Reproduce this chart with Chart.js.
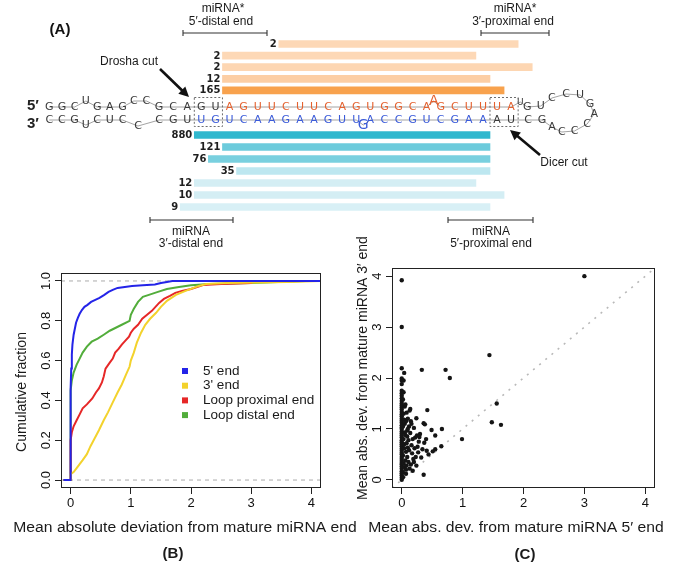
<!DOCTYPE html>
<html>
<head>
<meta charset="utf-8">
<title>miRNA end heterogeneity</title>
<script src="https://cdn.jsdelivr.net/npm/chart.js@4.4.1/dist/chart.umd.min.js"></script>
<style>
  html, body { margin:0; padding:0; background:#ffffff; }
  #fig { position:relative; width:685px; height:570px; background:#ffffff; overflow:hidden; }
  #fig canvas { position:absolute; left:0; top:0; }
</style>
</head>
<body>
<div id="fig">
  <canvas id="panelA1" width="685" height="570"></canvas>
  <canvas id="panelA2" width="685" height="570"></canvas>
  <canvas id="panelB" width="685" height="570"></canvas>
  <canvas id="panelC" width="685" height="570"></canvas>
</div>
<script>
// ================= DATA =================
// Panel A: read counts and read extents (nucleotide positions; 0 = first nt of the miRNA* arm)
const starCounts   = [2, 2, 2, 12, 165];
const starStart    = [3.5, -0.5, -0.5, -0.5, -0.5];
const starEnd      = [20.5, 17.5, 21.5, 18.5, 19.5];
const matureCounts = [880, 121, 76, 35, 12, 10, 9];
const matureStart  = [-2.5, -0.5, -1.5, 0.5, -2.5, -2.5, -3.5];
const matureEnd    = [18.5, 18.5, 18.5, 18.5, 17.5, 19.5, 18.5];

// Panel B: cumulative fraction vs mean absolute deviation
const seriesNames = ["5' end", "3' end", "Loop proximal end", "Loop distal end"];
const dev5X = [-0.12, 0, 0, 0.01, 0.02, 0.03, 0.05, 0.07, 0.09, 0.12, 0.15, 0.19, 0.23, 0.28, 0.34, 0.41, 0.48, 0.56, 0.63, 0.7, 0.78, 0.9, 1.02, 1.2, 1.4, 1.5, 1.6, 1.69, 4.16];
const dev5Y = [0, 0, 0.46, 0.56, 0.63, 0.68, 0.73, 0.76, 0.79, 0.815, 0.835, 0.855, 0.87, 0.88, 0.895, 0.905, 0.915, 0.93, 0.945, 0.955, 0.965, 0.97, 0.975, 0.978, 0.982, 0.99, 0.995, 1.0, 1.0];
const dev3X = [-0.12, 0, 0, 0.05, 0.1, 0.15, 0.2, 0.27, 0.33, 0.4, 0.47, 0.55, 0.62, 0.7, 0.78, 0.85, 0.92, 0.98, 1.0, 1.05, 1.1, 1.17, 1.24, 1.32, 1.42, 1.5, 1.6, 1.75, 1.91, 2.0, 2.13, 2.25, 2.6, 3.6, 4.16];
const dev3Y = [0, 0, 0.03, 0.04, 0.06, 0.08, 0.1, 0.13, 0.17, 0.21, 0.25, 0.3, 0.34, 0.39, 0.44, 0.48, 0.53, 0.57, 0.6, 0.64, 0.69, 0.74, 0.78, 0.81, 0.84, 0.87, 0.9, 0.93, 0.95, 0.96, 0.975, 0.985, 0.99, 0.995, 1.0];
const devLpX = [-0.12, 0, 0, 0.02, 0.05, 0.1, 0.15, 0.2, 0.27, 0.36, 0.42, 0.47, 0.52, 0.55, 0.58, 0.65, 0.7, 0.74, 0.8, 0.85, 0.91, 0.97, 1.0, 1.05, 1.12, 1.19, 1.27, 1.35, 1.47, 1.55, 1.65, 1.74, 1.85, 2.0, 2.1, 2.2, 2.5, 3.0, 3.05, 4.16];
const devLpY = [0, 0, 0.2, 0.24, 0.27, 0.3, 0.33, 0.36, 0.38, 0.41, 0.44, 0.46, 0.49, 0.52, 0.56, 0.59, 0.61, 0.64, 0.66, 0.68, 0.7, 0.72, 0.74, 0.76, 0.78, 0.81, 0.83, 0.85, 0.89, 0.91, 0.925, 0.94, 0.95, 0.96, 0.97, 0.98, 0.985, 0.99, 1.0, 1.0];
const devLdX = [-0.12, 0, 0, 0.02, 0.05, 0.1, 0.15, 0.2, 0.27, 0.35, 0.45, 0.55, 0.65, 0.75, 0.85, 0.98, 1.0, 1.05, 1.12, 1.2, 1.3, 1.45, 1.6, 1.8, 2.0, 2.3, 3.0, 3.9, 4.16];
const devLdY = [0, 0, 0.45, 0.5, 0.54, 0.58, 0.61, 0.64, 0.67, 0.695, 0.71, 0.73, 0.75, 0.765, 0.78, 0.8, 0.83, 0.86, 0.895, 0.92, 0.93, 0.945, 0.96, 0.97, 0.978, 0.985, 0.99, 1.0, 1.0];
const devTicks  = [0, 1, 2, 3, 4];
const fracTicks = [0, 0.2, 0.4, 0.6, 0.8, 1.0];
const fracRefLevels = [0, 1];

// Panel C: mean abs. dev. of 5' end (x) vs 3' end (y), one point per miRNA
const scX = [
  0,0,0,0,0,0,0,0,0,0, 0,0,0,0,0,0,0,0,0,0, 0,0,0,0,0,0,0,0,0,0, 0,0,0,0,0,0,0,0,0,0, 0,0,0,0,0,0,0,0,
  0.02,0.03,0.02,0.04,0.03,0.05,0.02,0.04,0.03,0.05,0.02,0.03,0.04,0.05,0.04,0.05,0.03,0.02,
  0.07,0.08,0.06,0.09,0.07,0.10,0.08,0.11,0.06,0.09,0.12,0.07,0.10,0.08,0.06,0.11,0.12,0.09,0.10,0.07,
  0.14,0.13,0.15,0.17,0.16,0.18,0.14,0.20,0.19,0.22,0.24,0.25,0.27,0.21,0.16,0.23,0.28,0.26,0.30,0.13,0.18,0.20,0.15,0.24,0.29,
  0.33,0.72,0.79,1.44,1.56,1.48,1.63,0.99,0.66,0.49,0.55,0.42,0.36,0.38,0.37,0.36,0.65,0.55,0.51,0.41,0.44,3.00,0.34,0.32,0.40
];
const scY = [
  0.00,0.04,0.09,0.13,0.17,0.22,0.26,0.30,0.33,0.37, 0.41,0.45,0.50,0.53,0.57,0.61,0.66,0.70,0.74,0.78,
  0.83,0.87,0.91,0.95,1.00,1.03,1.07,1.12,1.16,1.20, 1.25,1.29,1.33,1.38,1.42,1.46,1.50,1.55,1.60,1.65,
  1.70,1.75,1.88,1.95,1.99,2.19,3.00,3.92,
  0.15,0.32,0.48,0.62,0.80,0.93,1.05,1.18,1.30,1.44,1.58,1.72,2.10,0.25,0.70,1.10,1.95,0.05,
  0.12,0.28,0.38,0.45,0.55,0.63,0.72,0.78,0.88,0.97,1.05,1.15,1.20,1.32,1.48,0.35,0.58,0.85,1.00,0.20,
  1.39,1.36,0.30,0.52,0.68,0.80,0.92,1.02,0.41,0.83,1.21,0.87,0.54,0.62,1.10,0.45,0.75,0.65,0.90,0.22,0.18,0.35,1.15,0.28,0.84,
  2.16,2.16,2.00,2.45,1.50,1.13,1.08,0.80,1.00,0.98,0.87,1.37,1.11,1.09,0.73,0.10,0.66,0.60,0.56,0.57,0.50,4.00,0.60,0.44,0.80
];
const scTicks = [0, 1, 2, 3, 4];

// ================= STYLE / HELPERS =================
const FONT = "'Liberation Sans', Arial, Helvetica, sans-serif";
const VFONT = "'DejaVu Sans', Verdana, sans-serif";
Chart.defaults.font.family = FONT;
Chart.defaults.color = '#111';

function drawText(ctx, s, x, y, o) {
  o = o || {};
  ctx.save();
  ctx.font = o.font || ('12px ' + FONT);
  ctx.fillStyle = o.color || '#1a1a1a';
  ctx.textAlign = o.align || 'center';
  ctx.textBaseline = o.baseline || 'middle';
  ctx.translate(x, y);
  if (o.rot) ctx.rotate(o.rot);
  if (o.sx) ctx.scale(o.sx, 1);
  ctx.fillText(s, 0, 0);
  ctx.restore();
}
function arrow(ctx, x1, y1, x2, y2) {
  const a = Math.atan2(y2 - y1, x2 - x1), hl = 10, hw = 5;
  ctx.save();
  ctx.strokeStyle = '#111'; ctx.fillStyle = '#111'; ctx.lineWidth = 2.6;
  ctx.beginPath(); ctx.moveTo(x1, y1);
  ctx.lineTo(x2 - hl * 0.8 * Math.cos(a), y2 - hl * 0.8 * Math.sin(a)); ctx.stroke();
  ctx.beginPath(); ctx.moveTo(x2, y2);
  ctx.lineTo(x2 - hl * Math.cos(a) + hw * Math.sin(a), y2 - hl * Math.sin(a) - hw * Math.cos(a));
  ctx.lineTo(x2 - hl * Math.cos(a) - hw * Math.sin(a), y2 - hl * Math.sin(a) + hw * Math.cos(a));
  ctx.closePath(); ctx.fill();
  ctx.restore();
}
function bracket(ctx, x1, x2, y) {
  ctx.save();
  ctx.strokeStyle = '#333'; ctx.lineWidth = 1.1;
  ctx.beginPath();
  ctx.moveTo(x1, y); ctx.lineTo(x2, y);
  ctx.moveTo(x1, y - 3); ctx.lineTo(x1, y + 3);
  ctx.moveTo(x2, y - 3); ctx.lineTo(x2, y + 3);
  ctx.stroke();
  ctx.restore();
}

// read-count labels at the left end of each bar
const countPlugin = {
  id: 'counts',
  afterDatasetsDraw(chart) {
    const ctx = chart.ctx, meta = chart.getDatasetMeta(0);
    ctx.save();
    ctx.font = 'bold 10px ' + VFONT;
    ctx.fillStyle = '#1e1e1e';
    ctx.textAlign = 'right'; ctx.textBaseline = 'middle';
    meta.data.forEach((el, i) => {
      const left = Math.min(el.x, el.base);
      ctx.fillText(String(chart.data.labels[i]), left - 2, el.y + 0.5);
    });
    ctx.restore();
  }
};

// hairpin sequence, boxes, arrows and bracket annotations of panel A
const duplexPlugin = {
  id: 'duplex',
  afterDraw(chart) {
    const ctx = chart.ctx;
    const P = k => chart.scales.x.getPixelForValue(k);
    const yT = 107, yB = 120;
    const K = '#3a3a3a', OR = '#e4612f', BL = '#3b5bd9';
    const chain = [];
    const add = (c, k, y, col, size) => chain.push({ c, k, y, col, size: size || 11 });
    // 5' arm
    [['G',-12.8,0],['G',-11.9,0],['C',-11,0],['U',-10.2,-6],['G',-9.4,0],['A',-8.5,0],['G',-7.6,0],
     ['C',-6.8,-6],['C',-5.9,-6],['G',-5,0],['C',-4,0],['A',-3,0],['G',-2,0],['U',-1,0]]
      .forEach(a => add(a[0], a[1], yT + a[2], K));
    'AGUUCUUCAGUGGCA'.split('').forEach((c, i) => add(c, i, yT, OR));
    add('A', 14.5, yT - 6, OR, 14);
    'GCUUUA'.split('').forEach((c, i) => add(c, 15 + i, yT, OR));
    add('U', 20.65, yT - 5, K, 9);
    add('G', 21.15, yT, K);
    add('U', 22.1, yT - 1, K);
    // terminal loop
    [['C',22.9,98],['C',23.9,94],['U',24.9,95],['G',25.6,104],['A',25.9,114],
     ['C',25.4,124],['C',24.5,131],['C',23.6,132],['A',22.9,127]]
      .forEach(a => add(a[0], a[1], a[2], K));
    // 3' arm (listed 3'->loop, then reversed)
    const bot = [['C',-12.8,0,K],['C',-11.9,0,K],['G',-11,0,K],['U',-10.2,5,K],['C',-9.4,0,K],['U',-8.5,0,K],
                 ['C',-7.6,0,K],['C',-6.5,6,K],['C',-5,0,K],['G',-4,0,K],['U',-3,0,K],['U',-2,0,BL],['G',-1,0,BL]];
    'UCAAGAAGUU'.split('').forEach((c, i) => bot.push([c, i, 0, BL]));
    bot.push(['G', 9.5, 5, BL, 14]);
    'ACCGUCGAA'.split('').forEach((c, i) => bot.push([c, 10 + i, 0, BL]));
    bot.push(['A',19,0,K], ['U',20,0,K], ['C',21.2,0,K], ['G',22.2,0,K]);
    bot.slice().reverse().forEach(a => add(a[0], a[1], yB + a[2], a[3], a[4]));

    ctx.save();
    // backbone
    ctx.strokeStyle = '#8c8c8c'; ctx.lineWidth = 0.8;
    ctx.beginPath();
    chain.forEach((n, i) => { const x = P(n.k); if (i === 0) ctx.moveTo(x, n.y); else ctx.lineTo(x, n.y); });
    ctx.stroke();
    // letters
    ctx.textAlign = 'center'; ctx.textBaseline = 'middle';
    chain.forEach(n => {
      ctx.font = n.size + 'px ' + VFONT;
      ctx.fillStyle = n.col;
      ctx.fillText(n.c, P(n.k), n.y + 0.5);
    });
    // dashed boxes at cut sites
    ctx.setLineDash([2, 2]); ctx.strokeStyle = '#6d6d6d'; ctx.lineWidth = 1;
    ctx.strokeRect(P(-2.5), 97.5, P(-0.5) - P(-2.5), 29);
    ctx.strokeRect(P(18.5), 97.5, P(20.5) - P(18.5), 29);
    ctx.setLineDash([]);
    ctx.restore();

    drawText(ctx, '5\u2032', 33, 106, { font: 'bold 15px ' + FONT, color: '#222' });
    drawText(ctx, '3\u2032', 33, 124, { font: 'bold 15px ' + FONT, color: '#222' });

    drawText(ctx, '(A)', 60, 30, { font: 'bold 15px ' + FONT, color: '#111' });
    drawText(ctx, 'Drosha cut', 129, 62, { font: '12px ' + FONT });
    drawText(ctx, 'Dicer cut', 564, 163, { font: '12px ' + FONT });
    arrow(ctx, 160, 69, 189, 97);
    arrow(ctx, 540, 155, 510, 130);

    bracket(ctx, 183, 267, 33);
    bracket(ctx, 481, 549, 33);
    bracket(ctx, 150, 233, 220);
    bracket(ctx, 448, 533, 220);
    const f = '12px ' + FONT;
    drawText(ctx, 'miRNA*', 223, 9, { font: f });
    drawText(ctx, '5\u2032-distal end', 221, 22, { font: f });
    drawText(ctx, 'miRNA*', 515, 9, { font: f });
    drawText(ctx, '3\u2032-proximal end', 513, 22, { font: f });
    drawText(ctx, 'miRNA', 191, 232, { font: f });
    drawText(ctx, '3\u2032-distal end', 191, 244, { font: f });
    drawText(ctx, 'miRNA', 491, 232, { font: f });
    drawText(ctx, '5\u2032-proximal end', 491, 244, { font: f });
  }
};

function barChart(id, counts, starts, ends, colors, top, bottom, plugins) {
  return new Chart(document.getElementById(id), {
    type: 'bar',
    data: {
      labels: counts,
      datasets: [{
        data: starts.map((s, i) => [s, ends[i]]),
        backgroundColor: colors,
        borderWidth: 0,
        barThickness: 7
      }]
    },
    options: {
      indexAxis: 'y', responsive: false, animation: false, devicePixelRatio: 1,
      layout: { padding: { left: 0, right: 0, top: top, bottom: 570 - bottom } },
      scales: {
        x: { type: 'linear', min: -16.3, max: 32.35, display: false },
        y: { type: 'category', display: false }
      },
      plugins: { legend: { display: false }, tooltip: { enabled: false } }
    },
    plugins: plugins
  });
}

barChart('panelA1', starCounts, starStart, starEnd,
  ['#fdd8b6', '#fdd8b6', '#fdd6b2', '#fccea4', '#f8a24d'], 38.2, 96.2, [countPlugin, duplexPlugin]);
barChart('panelA2', matureCounts, matureStart, matureEnd,
  ['#30b8ce', '#6ccbdc', '#79d0df', '#bde7f0', '#d4eef4', '#d4eef4', '#d8f0f6'], 129, 213, [countPlugin]);

// ---------- shared axis builder for B and C ----------
function axisOpts(min, max, tickArr, fmt, isY, pad, size) {
  const o = {
    type: 'linear', min: min, max: max,
    afterBuildTicks: s => { s.ticks = tickArr.map(v => ({ value: v })); },
    ticks: { callback: fmt, color: '#111', font: { size: 13, family: FONT }, padding: pad, autoSkip: false },
    grid: { display: true, drawOnChartArea: false, drawTicks: true, tickLength: 6, tickColor: '#222', tickWidth: 1 },
    border: { display: false }
  };
  if (isY) {
    o.ticks.minRotation = 90; o.ticks.maxRotation = 90; o.ticks.crossAlign = 'center';
    o.afterFit = s => { s.width = size; };
  } else {
    o.ticks.maxRotation = 0;
    o.afterFit = s => { s.height = size; };
  }
  return o;
}
function boxPlugin(drawExtra) {
  return {
    id: 'box',
    afterDraw(chart) {
      const { ctx, chartArea: a } = chart;
      ctx.save();
      ctx.strokeStyle = '#222'; ctx.lineWidth = 1;
      ctx.strokeRect(Math.round(a.left) + 0.5, Math.round(a.top) + 0.5,
                     Math.round(a.right - a.left) - 1, Math.round(a.bottom - a.top) - 1);
      ctx.restore();
      drawExtra(chart, ctx, a);
    }
  };
}

// ================= PANEL B =================
const curveColors = ['#2424e8', '#f3d22c', '#e62727', '#52ad3b'];
const curveX = [dev5X, dev3X, devLpX, devLdX];
const curveY = [dev5Y, dev3Y, devLpY, devLdY];
const dsB = seriesNames.map((n, i) => ({
  label: n,
  data: curveX[i].map((x, j) => ({ x: x, y: curveY[i][j] })),
  borderColor: curveColors[i], backgroundColor: curveColors[i],
  borderWidth: 2, pointRadius: 0, showLine: true, tension: 0, fill: false
}));
fracRefLevels.forEach(lv => dsB.push({
  label: '', isRef: true,
  data: [{ x: -0.16, y: lv }, { x: 4.16, y: lv }],
  borderColor: '#ababab', borderWidth: 1, borderDash: [4, 4], pointRadius: 0, showLine: true
}));

new Chart(document.getElementById('panelB'), {
  type: 'scatter',
  data: { datasets: dsB },
  options: {
    responsive: false, animation: false, devicePixelRatio: 1,
    layout: { padding: { left: 0, right: 685 - 321, top: 273, bottom: 0 } },
    scales: {
      x: axisOpts(-0.16, 4.16, devTicks, v => String(v), false, 2, 82),
      y: axisOpts(-0.04, 1.04, fracTicks, v => v.toFixed(1), true, 0, 61)
    },
    plugins: { legend: { display: false }, tooltip: { enabled: false } }
  },
  plugins: [boxPlugin((chart, ctx, a) => {
    drawText(ctx, 'Cumulative fraction', 22, 392, { font: '14px ' + FONT, rot: -Math.PI / 2 });
    drawText(ctx, 'Mean absolute deviation from mature miRNA end', 185, 528, { font: '14px ' + FONT, sx: 1.12 });
    drawText(ctx, '(B)', 173, 554, { font: 'bold 15px ' + FONT });
    // legend
    const items = chart.data.datasets.filter(d => !d.isRef);
    items.forEach((d, i) => {
      const y = 371 + i * 14.7;
      ctx.save(); ctx.fillStyle = d.borderColor; ctx.fillRect(182, y - 3, 6, 6); ctx.restore();
      drawText(ctx, d.label, 203, y, { font: '13px ' + FONT, align: 'left', sx: 1.04 });
    });
  })]
});

// ================= PANEL C =================
new Chart(document.getElementById('panelC'), {
  type: 'scatter',
  data: {
    datasets: [
      { data: scX.map((x, i) => ({ x: x, y: scY[i] })), pointRadius: 2.2, pointBorderWidth: 0,
        pointBackgroundColor: '#151515', backgroundColor: '#151515' },
      { data: [{ x: -0.16, y: -0.16 }, { x: 4.16, y: 4.16 }], showLine: true, pointRadius: 0,
        borderColor: '#b9b9b9', borderWidth: 1.6, borderDash: [2, 6] }
    ]
  },
  options: {
    responsive: false, animation: false, devicePixelRatio: 1,
    layout: { padding: { left: 340, right: 685 - 655, top: 268, bottom: 0 } },
    scales: {
      x: axisOpts(-0.16, 4.16, scTicks, v => String(v), false, 2, 82),
      y: axisOpts(-0.16, 4.16, scTicks, v => String(v), true, 5, 52)
    },
    plugins: { legend: { display: false }, tooltip: { enabled: false } }
  },
  plugins: [boxPlugin((chart, ctx, a) => {
    drawText(ctx, 'Mean abs. dev. from mature miRNA 3\u2032 end', 363, 368, { font: '14px ' + FONT, rot: -Math.PI / 2 });
    drawText(ctx, 'Mean abs. dev. from mature miRNA 5\u2032 end', 516, 528, { font: '14px ' + FONT, sx: 1.12 });
    drawText(ctx, '(C)', 525, 555, { font: 'bold 15px ' + FONT });
  })]
});
</script>
</body>
</html>
